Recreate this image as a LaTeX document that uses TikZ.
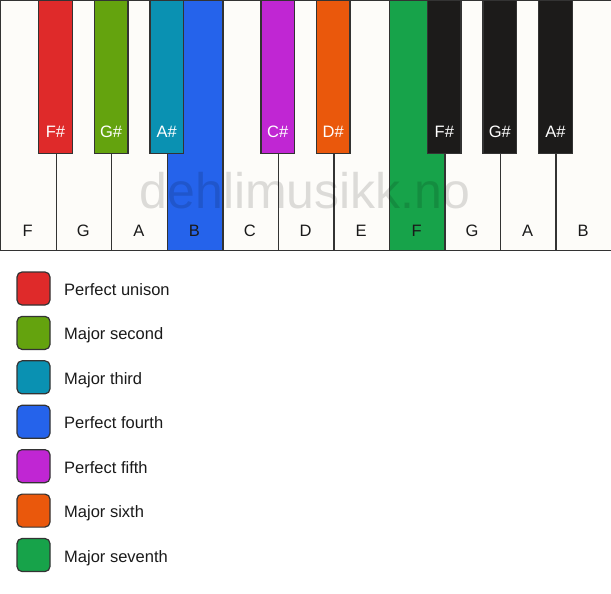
\documentclass[tikz,border=0pt]{standalone}
\usepackage{fontspec}
\setmainfont{Liberation Sans}
\definecolor{ivory}{HTML}{FDFCF9}
\definecolor{edge}{HTML}{333333}
\definecolor{ink}{HTML}{1A1A1A}
\definecolor{kred}{HTML}{DF2A2A}
\definecolor{klime}{HTML}{64A30E}
\definecolor{kcyan}{HTML}{0A91B2}
\definecolor{kblue}{HTML}{2563EB}
\definecolor{kfuch}{HTML}{C026D3}
\definecolor{korange}{HTML}{EA580C}
\definecolor{kgreen}{HTML}{17A34A}
\definecolor{kblack}{HTML}{1C1B1A}
\tikzset{
  whitekey/.style={draw=edge,line width=1.4pt,fill=ivory,minimum width=55.545pt,minimum height=250pt,inner sep=0pt,anchor=north west},
  blackkey/.style={draw=edge,line width=1.4pt,minimum width=33.5pt,minimum height=152.5pt,inner sep=0pt,anchor=north},
  keylabel/.style={font=\fontsize{16.5}{18}\selectfont,text=ink,inner sep=0pt},
  sharplabel/.style={font=\fontsize{16.5}{18}\selectfont,text=white,inner sep=0pt},
  swatch/.style={draw=edge,line width=1.2pt,rounded corners=5pt,minimum width=33pt,minimum height=33pt,inner sep=0pt},
  legtext/.style={font=\fontsize{16.5}{18}\selectfont,text=ink,anchor=base west,inner sep=0pt},
}
\begin{document}
\begin{tikzpicture}[x=1pt,y=-1pt]
\useasboundingbox (0,0) rectangle (611,594);
\fill[white] (0,0) rectangle (611,594);
% white keys
\foreach \i/\n/\c in {0/F/ivory,1/G/ivory,2/A/ivory,3/B/kblue,4/C/ivory,5/D/ivory,6/E/ivory,7/F/kgreen,8/G/ivory,9/A/ivory,10/B/ivory}{
  \node[whitekey,fill=\c] (w\i) at (\i*55.545,0) {};
  \node[keylabel,anchor=base] (wl\i) at (\i*55.545+27.77,236) {\n};
}
% black keys
\foreach \k/\n/\c in {1/F\#/kred,2/G\#/klime,3/A\#/kcyan,5/C\#/kfuch,6/D\#/korange,8/F\#/kblack,9/G\#/kblack,10/A\#/kblack}{
  \node[blackkey,fill=\c] (b\k) at (\k*55.545,0) {};
  \node[sharplabel,anchor=base] (bl\k) at (\k*55.545,138) {\n};
}
% watermark
\node[font=\fontsize{50}{52}\selectfont,text=black,opacity=0.13,inner sep=0pt,anchor=base] (wm) at (305,208) {dehlimusikk.no};
% legend
\foreach \j/\c/\t in {0/kred/Perfect unison,1/klime/Major second,2/kcyan/Major third,3/kblue/Perfect fourth,4/kfuch/Perfect fifth,5/korange/Major sixth,6/kgreen/Major seventh}{
  \node[swatch,fill=\c] (s\j) at (33.5,288.5+\j*44.42) {};
  \node[legtext] (t\j) at (64,295.5+\j*44.42) {\t};
}
\end{tikzpicture}
\end{document}
